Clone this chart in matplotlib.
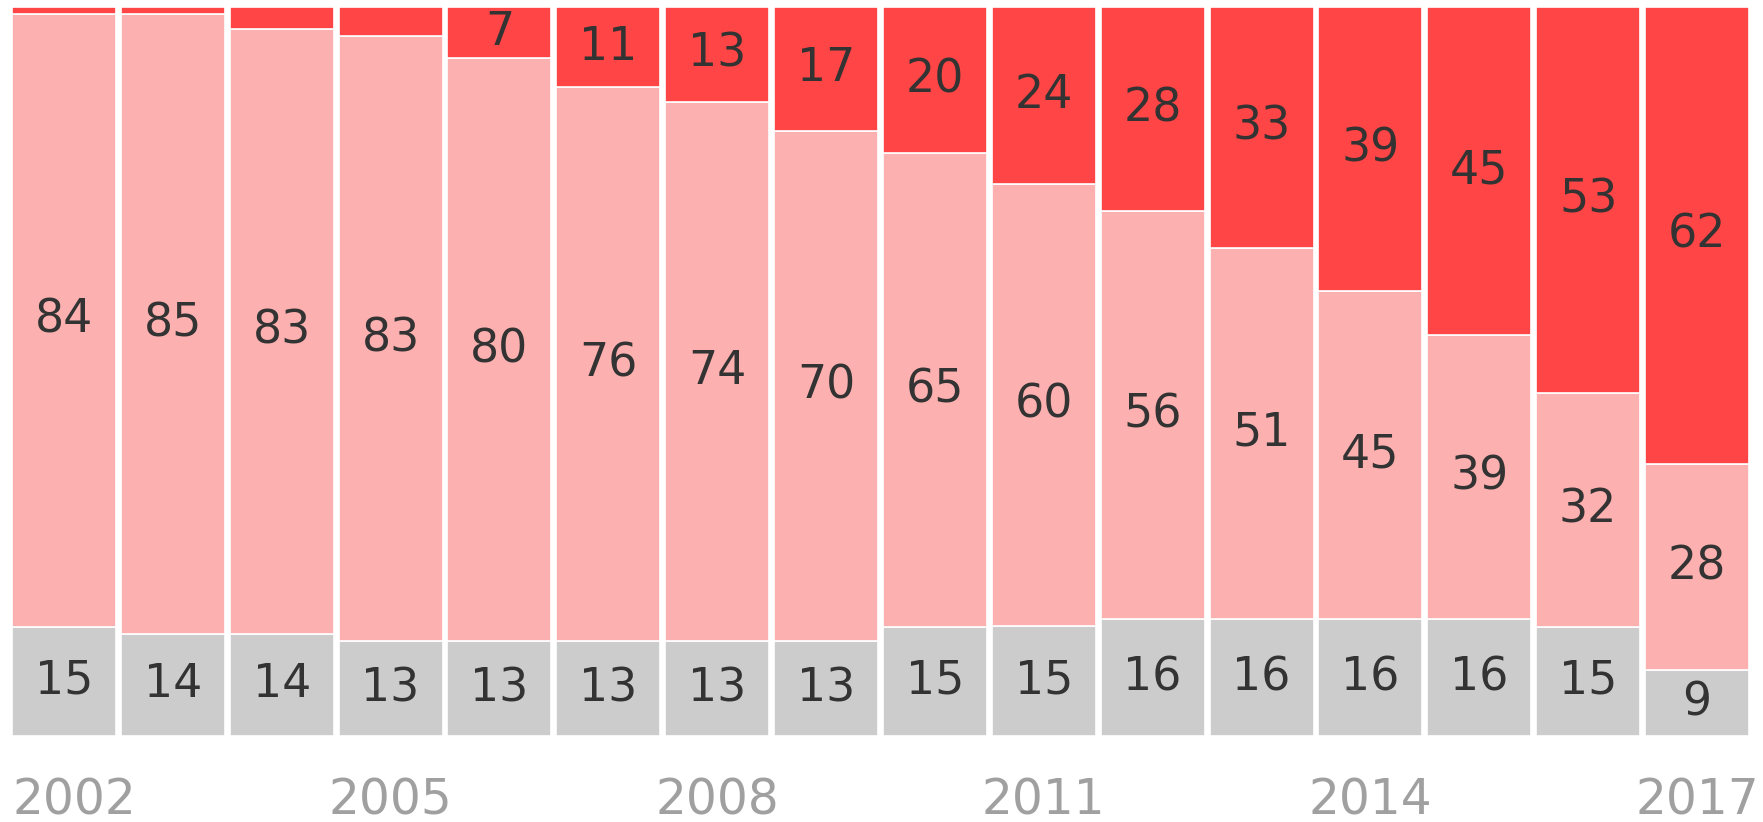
import matplotlib
matplotlib.use("Agg")
import matplotlib.pyplot as plt
import matplotlib.transforms as mtransforms
import numpy as np

years = list(range(2002, 2018))
grey_vals = [15, 14, 14, 13, 13, 13, 13, 13, 15, 15, 16, 16, 16, 16, 15, 9]
pink_vals = [84, 85, 83, 83, 80, 76, 74, 70, 65, 60, 56, 51, 45, 39, 32, 28]
red_vals = [1, 1, 3, 4, 7, 11, 13, 17, 20, 24, 28, 33, 39, 45, 53, 62]
year_ticks = [2002, 2005, 2008, 2011, 2014, 2017]

c_grey = "#cccccc"
c_pink = "#fdb0b0"
c_red = "#ff4545"
c_text = "#333333"

plt.rcParams['font.family'] = ['DejaVu Sans']

fig = plt.figure(figsize=(17.63, 8.22), dpi=100)
ax = fig.add_axes([12 / 1763, 86 / 822, (1749 - 12) / 1763, (822 - 86 - 7) / 822])

x = np.arange(len(years))
w = 0.955
g = np.array(grey_vals, dtype=float)
p = np.array(pink_vals, dtype=float)
r = np.array(red_vals, dtype=float)
tot = g + p + r
# 100% stacked: normalise each column to its total
gs = g / tot * 100
ps = p / tot * 100
rs = r / tot * 100
ax.bar(x, gs, w, color=c_grey, edgecolor="white", linewidth=1.2)
ax.bar(x, ps, w, bottom=gs, color=c_pink, edgecolor="white", linewidth=1.2)
ax.bar(x, rs, w, bottom=gs + ps, color=c_red, edgecolor="white", linewidth=1.2)

fs = 33
for i in range(len(years)):
    ax.text(x[i], gs[i] / 2, str(grey_vals[i]), ha="center", va="center", fontsize=fs, color=c_text)
    ax.text(x[i], gs[i] + ps[i] / 2, str(pink_vals[i]), ha="center", va="center", fontsize=fs, color=c_text)
    if red_vals[i] >= 5:
        ax.text(x[i], gs[i] + ps[i] + rs[i] / 2, str(red_vals[i]), ha="center", va="center",
                fontsize=fs, color=c_text)

ax.set_xlim(-w / 2, len(years) - 1 + w / 2)
ax.set_ylim(0, 100)
ax.axis("off")

trans = mtransforms.blended_transform_factory(ax.transData, fig.transFigure)
for yr in year_ticks:
    i = years.index(yr)
    if i == 0:
        ax.text(x[i] - w / 2, 1 - 800 / 822, str(yr), ha="left", va="center", fontsize=35,
                color="#a0a0a0", transform=trans)
    else:
        ax.text(x[i], 1 - 800 / 822, str(yr), ha="center", va="center", fontsize=35,
                color="#a0a0a0", transform=trans)

fig.savefig("out.png", dpi=100, facecolor="white")
